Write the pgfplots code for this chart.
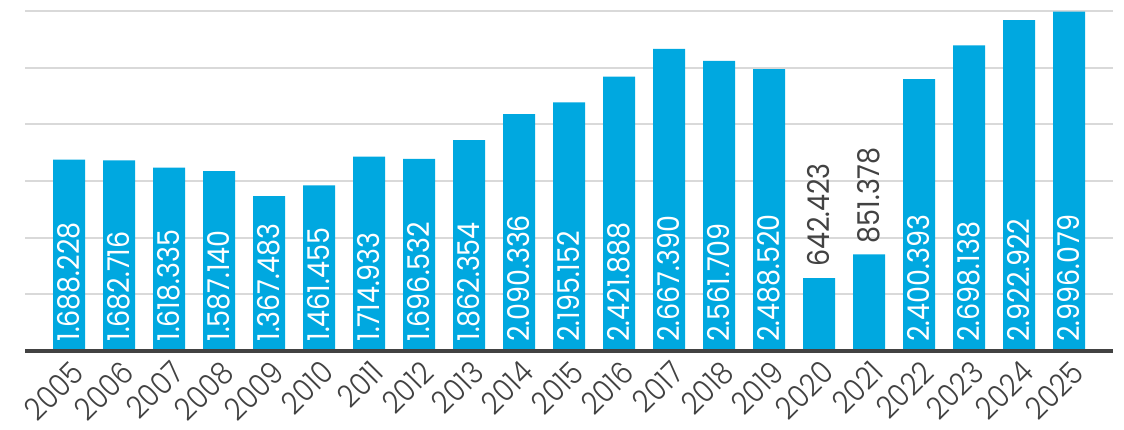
\documentclass[border=0pt]{standalone}
\usepackage{pgfplots}
\usepackage{pgfplotstable}
\pgfplotsset{compat=1.18}
\usepackage{fontspec}
\setmainfont{Poppins}[FakeStretch=0.9]
\newfontfamily\lightfont{Poppins Light}[FakeStretch=0.9]

\definecolor{barblue}{HTML}{00A8E0}
\definecolor{txtgray}{HTML}{424242}
\definecolor{gridgray}{HTML}{D9D9D9}

% year index, value, base for in-bar labels, label
\pgfplotstableread{
x  value   base label
0  1688228 0    1.688.228
1  1682716 0    1.682.716
2  1618335 0    1.618.335
3  1587140 0    1.587.140
4  1367483 0    1.367.483
5  1461455 0    1.461.455
6  1714933 0    1.714.933
7  1696532 0    1.696.532
8  1862354 0    1.862.354
9  2090336 0    2.090.336
10 2195152 0    2.195.152
11 2421888 0    2.421.888
12 2667390 0    2.667.390
13 2561709 0    2.561.709
14 2488520 0    2.488.520
15 642423  0    642.423
16 851378  0    851.378
17 2400393 0    2.400.393
18 2698138 0    2.698.138
19 2922922 0    2.922.922
20 2996079 0    2.996.079
}\datatable

\pgfplotstableread{
x  value  label
15 642423 642.423
16 851378 851.378
}\smalltable

\begin{document}
\begin{tikzpicture}
\begin{axis}[
    scale only axis,
    width=1088pt, height=339.5pt,
    xmin=-0.88, xmax=20.88,
    ymin=0, ymax=3000000,
    scaled y ticks=false,
    axis line style={draw=none},
    major tick length=0pt,
    ytick={0,500000,1000000,1500000,2000000,2500000,3000000},
    yticklabels={},
    ymajorgrids=true,
    grid style={gridgray, line width=2pt},
    xtick={0,1,...,20},
    xticklabels={2005,2006,2007,2008,2009,2010,2011,2012,2013,2014,2015,2016,2017,2018,2019,2020,2021,2022,2023,2024,2025},
    xticklabel style={rotate=45, anchor=north east, inner sep=0pt, yshift=-6pt, xshift=-5pt,
        text=txtgray, font=\lightfont\fontsize{31}{31}\selectfont},
    clip=false,
]
\addplot[ybar, bar width=32pt, fill=barblue, draw=none]
    table[x=x, y=value] {\datatable};

\addplot[draw=none, mark=none, point meta=explicit symbolic,
    skip coords between index={15}{17},
    nodes near coords,
    nodes near coords style={rotate=90, anchor=west, inner xsep=9pt, inner ysep=0pt,
        text=white, font=\fontsize{30}{30}\selectfont}]
    table[x=x, y=base, meta=label] {\datatable};

\addplot[draw=none, mark=none, point meta=explicit symbolic,
    nodes near coords,
    nodes near coords style={rotate=90, anchor=west, inner xsep=11pt, inner ysep=0pt,
        text=txtgray, font=\fontsize{30}{30}\selectfont}]
    table[x=x, y=value, meta=label] {\smalltable};

\draw[txtgray, line width=4.5pt] (rel axis cs:0,0) -- (rel axis cs:1,0);
\end{axis}
\pgfresetboundingbox
\path ([xshift=-25pt, yshift=-78.5pt]current axis.south west)
    rectangle ([xshift=11pt, yshift=11.3pt]current axis.north east);
\end{tikzpicture}
\end{document}
